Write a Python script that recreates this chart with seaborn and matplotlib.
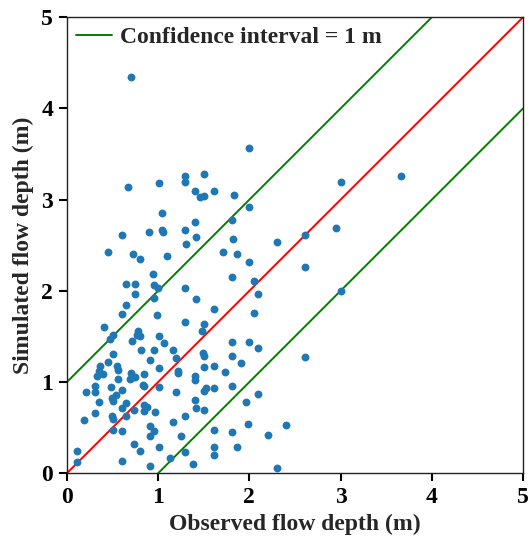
import numpy as np
import matplotlib
matplotlib.use("Agg")
import matplotlib.pyplot as plt
import seaborn as sns

# Data (observed vs simulated flow depth, m)
observed = [0.70, 2.00, 0.67, 1.01, 1.30, 1.30, 1.50, 1.40, 1.46, 1.50, 1.61, 1.83, 2.00, 1.04,
            1.40, 1.81, 0.60, 0.90, 1.04, 1.05, 1.30, 1.41, 1.82, 2.30, 1.31, 3.00, 3.66, 2.95,
            2.61, 2.61, 3.00, 2.61, 2.40, 2.30,
            0.45, 0.72, 0.80, 1.10, 1.71, 1.86, 2.00, 0.94, 0.65, 0.75, 0.95, 1.00, 1.30, 1.81,
            2.05, 2.10, 0.75, 0.96, 1.41, 0.65, 0.60, 0.99, 1.61, 2.05, 1.30, 1.50, 1.48, 0.41,
            0.78, 0.77, 0.80, 0.50, 0.47, 0.71, 1.01, 1.06, 0.81, 0.96, 1.16, 0.50, 1.20, 1.49,
            1.50, 1.81, 2.00, 2.10, 1.81, 1.91, 0.45, 0.36, 0.55, 0.91, 0.35, 0.40, 0.33, 0.56,
            1.01, 1.22, 1.22, 1.50, 1.61, 1.73, 0.70, 0.72, 0.75, 0.69, 0.56, 0.85, 1.40, 1.40,
            0.83, 0.85, 1.01, 0.31, 0.48, 0.31, 0.21, 0.60, 1.20, 1.50, 1.53, 1.61, 1.81, 2.10,
            0.49, 0.54, 0.50, 0.35, 0.65, 0.60, 0.84, 0.88, 0.74, 0.85, 0.97, 1.40, 1.42, 1.50,
            1.96, 0.31, 0.49, 0.50, 0.65, 1.30, 0.19, 1.16, 1.98, 0.50, 0.60, 0.91, 0.91, 0.95,
            1.61, 1.81, 2.20, 0.74, 0.80, 1.01, 1.61, 1.61, 1.86, 1.30, 1.13, 0.11, 0.11, 0.60,
            0.91, 1.38, 1.25]
simulated = [4.35, 3.57, 3.14, 3.18, 3.26, 3.19, 3.28, 3.09, 3.03, 3.04, 3.09, 3.05, 2.92, 2.85,
             2.76, 2.78, 2.61, 2.64, 2.67, 2.64, 2.67, 2.59, 2.57, 2.54, 2.51, 3.19, 3.26, 2.69,
             2.61, 2.26, 2.00, 1.27, 0.53, 0.06,
             2.43, 2.40, 2.35, 2.38, 2.43, 2.40, 2.32, 2.19, 2.07, 2.08, 2.06, 2.03, 2.03, 2.15,
             2.11, 1.97, 1.96, 1.92, 1.91, 1.84, 1.75, 1.74, 1.80, 1.76, 1.66, 1.64, 1.56, 1.60,
             1.56, 1.52, 1.50, 1.52, 1.47, 1.45, 1.51, 1.43, 1.35, 1.35, 1.35, 1.31, 1.26, 1.32,
             1.29, 1.44, 1.44, 1.37, 1.29, 1.21, 1.22, 1.18, 1.18, 1.24, 1.12, 1.09, 1.07, 1.13,
             1.15, 1.12, 1.10, 1.17, 1.18, 1.11, 1.10, 1.06, 1.05, 1.03, 1.03, 1.09, 1.07, 1.02,
             0.97, 0.96, 0.95, 0.96, 0.95, 0.89, 0.89, 0.91, 0.89, 0.90, 0.93, 0.93, 0.96, 0.87,
             0.83, 0.86, 0.79, 0.78, 0.77, 0.72, 0.75, 0.73, 0.69, 0.68, 0.67, 0.80, 0.72, 0.69,
             0.78, 0.66, 0.63, 0.60, 0.63, 0.63, 0.58, 0.56, 0.54, 0.47, 0.46, 0.52, 0.41, 0.46,
             0.47, 0.45, 0.42, 0.32, 0.24, 0.29, 0.29, 0.20, 0.29, 0.23, 0.17, 0.24, 0.12, 0.13,
             0.08, 0.10, 0.41]

line_x = np.array([0, 5])
band = 1.0  # confidence interval, m
ticks = [0, 1, 2, 3, 4, 5]

sns.set_style("ticks")
plt.rcParams['font.family'] = ['Liberation Serif', 'DejaVu Serif']
plt.rcParams['font.weight'] = 'bold'

fig = plt.figure(figsize=(5.31, 5.39), dpi=100)
ax = fig.add_axes([0.126, 0.122, 0.859, 0.846])

ax.plot(line_x, line_x + band, color='green', lw=1.4, label='Confidence interval = 1 m')
ax.plot(line_x, line_x, color='red', lw=1.4)
ax.plot(line_x, line_x - band, color='green', lw=1.4)
sns.scatterplot(x=observed, y=simulated, ax=ax, color='#1f77b4', s=32, linewidth=0, zorder=3)

ax.set_xlim(0, 5)
ax.set_ylim(0, 5)
ax.set_xticks(ticks)
ax.set_yticks(ticks)
ax.tick_params(direction='out', length=6, width=1.5, labelsize=17, pad=4, colors='black')
for lab in ax.get_xticklabels() + ax.get_yticklabels():
    lab.set_fontweight('bold')
for sp in ax.spines.values():
    sp.set_linewidth(1.0)
    sp.set_color('#222222')
ax.set_xlabel('Observed flow depth (m)', fontsize=17, fontweight='bold', labelpad=4)
ax.set_ylabel('Simulated flow depth (m)', fontsize=17, fontweight='bold', labelpad=5)

ax.legend(loc='upper left', frameon=False, prop={'size': 17, 'weight': 'bold'},
          handlelength=1.5, borderaxespad=0.0, handletextpad=0.35)

fig.savefig('out.png', dpi=100)
